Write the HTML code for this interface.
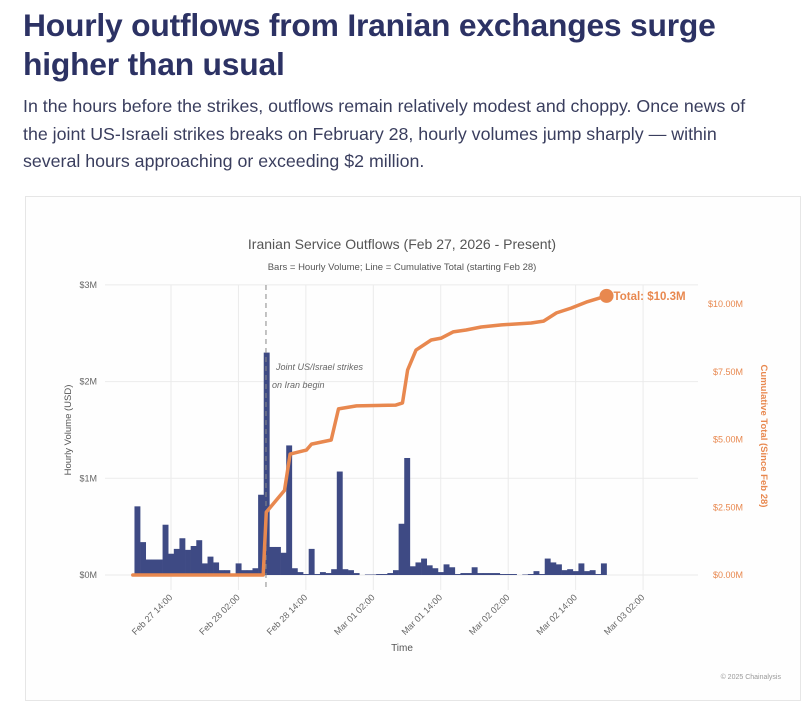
<!DOCTYPE html>
<html><head><meta charset="utf-8">
<style>
body{margin:0;background:#fff;width:810px;height:706px;overflow:hidden;font-family:"Liberation Sans",sans-serif;}
#title{position:absolute;left:23px;top:6px;width:720px;font-size:31.8px;font-weight:bold;color:#2c3264;line-height:39px;letter-spacing:-0.2px;}
#sub{position:absolute;left:23px;top:93px;width:785px;font-size:17.8px;color:#3a3e5e;line-height:27.5px;white-space:nowrap;}
#frame{position:absolute;left:25px;top:196px;width:774px;height:503px;border:1px solid #e6e6e6;background:#fefefe;}
svg{position:absolute;left:0;top:0;}
</style></head><body>
<div id="title">Hourly outflows from Iranian exchanges surge higher than usual</div>
<div id="sub">In the hours before the strikes, outflows remain relatively modest and choppy. Once news of<br>the joint US-Israeli strikes breaks on February 28, hourly volumes jump sharply — within<br>several hours approaching or exceeding $2 million.</div>
<div id="frame"></div>
<svg id="chart" width="810" height="706"></svg>
<script>
// hours relative to Feb 27 14:00; bar i is at hour i-6
const barValues=[0.71,0.34,0.16,0.16,0.16,0.52,0.22,0.27,0.38,0.26,0.30,0.36,0.12,0.19,0.13,0.05,0.05,0,0.12,0.05,0.05,0.07,0.83,2.3,0.29,0.29,0.23,1.34,0.07,0.03,0.01,0.27,0.01,0.03,0.02,0.06,1.07,0.06,0.05,0.02,0,0.005,0.005,0.01,0.01,0.02,0.05,0.53,1.21,0.09,0.13,0.17,0.10,0.07,0.03,0.11,0.08,0.01,0.02,0.02,0.08,0.02,0.02,0.02,0.02,0.01,0.01,0.01,0,0.005,0.01,0.04,0.01,0.17,0.13,0.11,0.05,0.06,0.04,0.12,0.04,0.05,0.01,0.12];
const barStartHour=-6;
const cumHours=[-6.8,16.4,16.95,20.2,21.2,24.1,25,28.5,29.8,33,40,41.2,42.1,43.6,46.3,48.1,50.2,52.5,55.2,58.8,64.1,66.3,68.6,71.2,73.9,77.5];
const cumValues=[0,0,2.32,3.12,4.46,4.61,4.83,4.98,6.13,6.24,6.27,6.35,7.56,8.3,8.67,8.74,8.97,9.04,9.15,9.23,9.3,9.37,9.67,9.85,10.07,10.3];
const tickHours=[0,12,24,36,48,60,72,84];
const tickLabels=["Feb 27 14:00","Feb 28 02:00","Feb 28 14:00","Mar 01 02:00","Mar 01 14:00","Mar 02 02:00","Mar 02 14:00","Mar 03 02:00"];
const leftTicks=[0,1,2,3];
const leftLabels=["$0M","$1M","$2M","$3M"];
const rightTicks=[0,2.5,5,7.5,10];
const rightLabels=["$0.00M","$2.50M","$5.00M","$7.50M","$10.00M"];
const strikeHour=16.9;
const totalLabel="Total: $10.3M";

const NS="http://www.w3.org/2000/svg";
const svg=document.getElementById('chart');
const X=h=>171+5.62*h;
const YL=v=>575-96.7*v;
const YR=v=>575-27.1*v;
function mk(tag,attrs,parent){const e=document.createElementNS(NS,tag);for(const k in attrs)e.setAttribute(k,attrs[k]);(parent||svg).appendChild(e);return e;}
function txt(s,attrs){const e=mk('text',attrs);e.textContent=s;return e;}

let t=txt("Iranian Service Outflows (Feb 27, 2026 - Present)",{x:402,y:249,'text-anchor':'middle','font-size':14,fill:'#555'});


t=txt("Bars = Hourly Volume; Line = Cumulative Total (starting Feb 28)",{x:402,y:270,'text-anchor':'middle','font-size':9.5,fill:'#555'});



leftTicks.forEach((v,i)=>{
  const g=mk('line',{x1:105,x2:698,y1:YL(v),y2:YL(v),stroke:'#ebebeb','stroke-width':1});
  
  
  const l=txt(leftLabels[i],{x:97,y:YL(v)+3,'text-anchor':'end','font-size':9,fill:'#666'});
  
  
});
tickHours.forEach((h,i)=>{
  const g=mk('line',{x1:X(h),x2:X(h),y1:285,y2:590,stroke:'#ebebeb','stroke-width':1});
  
  
  const l=txt(tickLabels[i],{x:X(h)+2,y:598,'text-anchor':'end','font-size':9,fill:'#666',transform:`rotate(-45 ${X(h)+2} 598)`});
  
  
});
rightTicks.forEach((v,i)=>{
  const l=txt(rightLabels[i],{x:743,y:YR(v)+3,'text-anchor':'end','font-size':9,fill:'#e8884f'});
  
  
});
t=txt("Time",{x:402,y:651,'text-anchor':'middle','font-size':10,fill:'#555'});


t=txt("Hourly Volume (USD)",{x:71,y:430,'text-anchor':'middle','font-size':9.5,fill:'#555',transform:'rotate(-90 71 430)'});


t=txt("Cumulative Total (Since Feb 28)",{x:761,y:436,'text-anchor':'middle','font-size':9.5,'font-weight':'bold',fill:'#e8884f',transform:'rotate(90 761 436)'});



barValues.forEach((v,i)=>{
  const h=barStartHour+i;
  const w=5.62;
  const b=mk('rect',{x:X(h)-w/2,y:YL(v),width:w+0.3,height:Math.max(0,575-YL(v)),fill:'#3e4a84'});
  
  
});

let d=mk('line',{x1:X(strikeHour),x2:X(strikeHour),y1:285,y2:590,stroke:'#888','stroke-width':1,'stroke-dasharray':'5,4'});


t=txt("Joint US/Israel strikes",{x:276,y:370,'font-size':9,'font-style':'italic',fill:'#666'});


t=txt("on Iran begin",{x:272,y:388,'font-size':9,'font-style':'italic',fill:'#666'});



const pts=cumHours.map((h,i)=>X(h).toFixed(1)+','+YR(cumValues[i]).toFixed(1)).join(' ');
const pl=mk('polyline',{points:pts,fill:'none',stroke:'#e8884f','stroke-width':3.5,'stroke-linejoin':'round','stroke-linecap':'round'});


const last=cumValues.length-1;
const c=mk('circle',{cx:X(cumHours[last]),cy:YR(cumValues[last]),r:7,fill:'#e8884f'});


t=txt(totalLabel,{x:X(cumHours[last])+7,y:YR(cumValues[last])+4,'font-size':11.5,'font-weight':'bold',fill:'#e8884f'});



t=txt("© 2025 Chainalysis",{x:781,y:679,'text-anchor':'end','font-size':7,fill:'#999'});


</script>
</body></html>
